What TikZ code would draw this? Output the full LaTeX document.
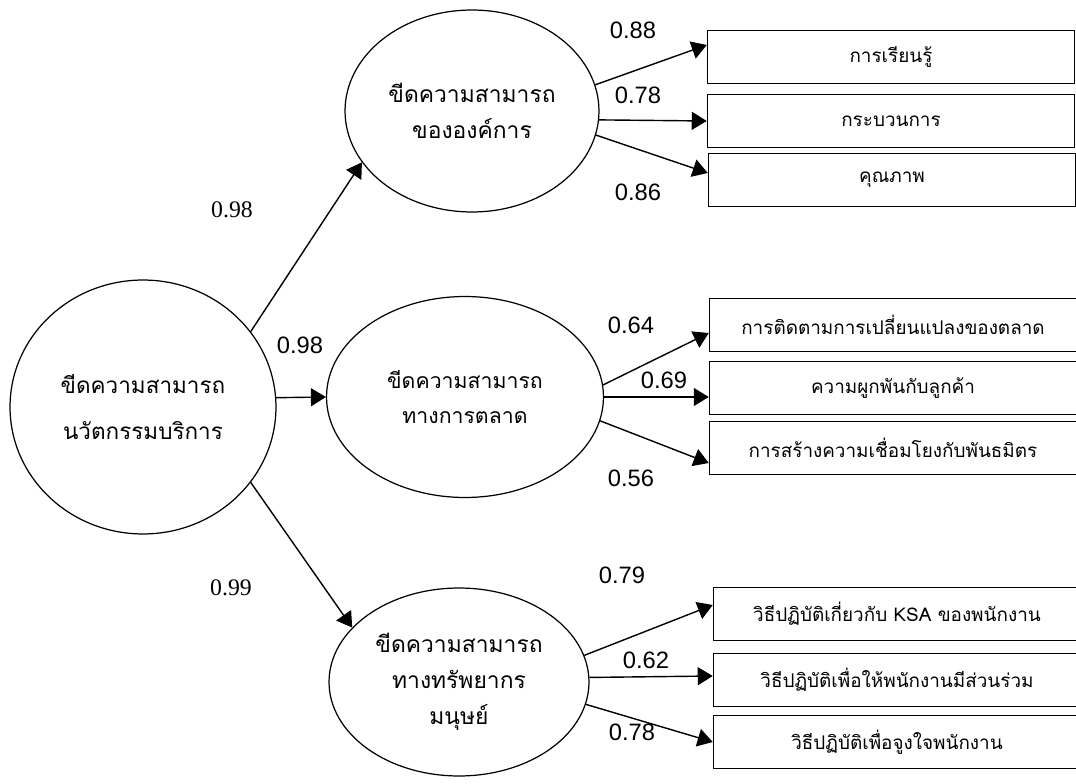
\documentclass[tikz,border=0pt]{standalone}
\usepackage{fontspec}
\setmainfont{Liberation Sans}
\newfontfamily\thaifont[Script=Thai]{Loma}
\newfontfamily\timesfont{Liberation Serif}
\usetikzlibrary{arrows.meta,shapes.geometric,calc}

\tikzset{
  latent/.style={ellipse,draw,line width=0.7pt,align=center,inner sep=0pt,
    font=\thaifont\fontsize{13}{20.5}\selectfont},
  indicator/.style={rectangle,draw,line width=0.9pt,minimum width=7.34cm,
    minimum height=1.06cm,font=\thaifont\fontsize{10.75}{12}\selectfont},
  loading/.style={-{Triangle[length=0.3cm,width=0.36cm]},line width=0.8pt},
  coef/.style={font=\fontsize{13.5}{16}\selectfont,inner sep=0pt},
  coefserif/.style={font=\timesfont\fontsize{13.5}{16}\selectfont,inner sep=0pt}
}

\begin{document}
\begin{tikzpicture}[x=0.02cm,y=-0.02cm]
\useasboundingbox (0,0) rectangle (1076,784);
\clip (0,0) rectangle (1076,784);

% latent variables
\node[latent,minimum width=5.32cm,minimum height=5.08cm,
  font=\thaifont\fontsize{12.8}{26.7}\selectfont] (innov) at (143,407)
  {ขีดความสามารถ\\นวัตกรรมบริการ};
\node[latent,minimum width=5.08cm,minimum height=4.04cm] (org) at (472,111)
  {ขีดความสามารถ\\ขององค์การ};
\node[latent,minimum width=5.54cm,minimum height=4.02cm,
  font=\thaifont\fontsize{12.1}{20}\selectfont] (mkt) at (465,397)
  {ขีดความสามารถ\\ทางการตลาด};
\node[latent,minimum width=5.2cm,minimum height=3.76cm] (hr) at (459,682)
  {ขีดความสามารถ\\ทางทรัพยากร\\มนุษย์};

% observed variables
\node[indicator] (learn) at (891,57) {การเรียนรู้};
\node[indicator] (proc) at (891,121) {กระบวนการ};
\node[indicator] (qual) at (892,180) {คุณภาพ};
\node[indicator] (track) at (893,325) {การติดตามการเปลี่ยนแปลงของตลาด};
\node[indicator] (bond) at (893,388) {ความผูกพันกับลูกค้า};
\node[indicator] (ally) at (893,448) {การสร้างความเชื่อมโยงกับพันธมิตร};
\node[indicator] (ksa) at (897,614) {วิธีปฏิบัติเกี่ยวกับ KSA ของพนักงาน};
\node[indicator] (part) at (897,680) {วิธีปฏิบัติเพื่อให้พนักงานมีส่วนร่วม};
\node[indicator] (motiv) at (897,742) {วิธีปฏิบัติเพื่อจูงใจพนักงาน};

% second order paths
\draw[loading] (innov.35) -- (org.-155);
\draw[loading] (innov.4) -- (mkt.west);
\draw[loading] (innov.-35) -- (hr.153);

% first order paths
\draw[loading] (org.12) -- ($(learn.west)+(0,-12)$);
\draw[loading] (org.-4) -- (proc.west);
\draw[loading] (org.-11) -- ($(qual.west)+(0,-7)$);
\draw[loading] (mkt.5) -- ($(track.west)+(0,8)$);
\draw[loading] (mkt.0) -- ($(bond.west)+(0,9)$);
\draw[loading] (mkt.-10) -- ($(ally.west)+(0,15)$);
\draw[loading] (hr.12) -- ($(ksa.west)+(0,-9)$);
\draw[loading] (hr.2) -- ($(part.west)+(0,-4)$);
\draw[loading] (hr.-10) -- (motiv.west);

% loadings
\node[coefserif] (l1) at (232,210) {0.98};
\node[coef] (l2) at (300,345) {0.98};
\node[coefserif] (l3) at (231,588) {0.99};
\node[coef] (l4) at (633,30) {0.88};
\node[coef] (l5) at (638,95) {0.78};
\node[coef] (l6) at (638,192) {0.86};
\node[coef] (l7) at (631,325) {0.64};
\node[coef] (l8) at (664,380) {0.69};
\node[coef] (l9) at (631,478) {0.56};
\node[coef] (l10) at (622,575) {0.79};
\node[coef] (l11) at (646,660) {0.62};
\node[coef] (l12) at (632,732) {0.78};
\end{tikzpicture}
\end{document}
